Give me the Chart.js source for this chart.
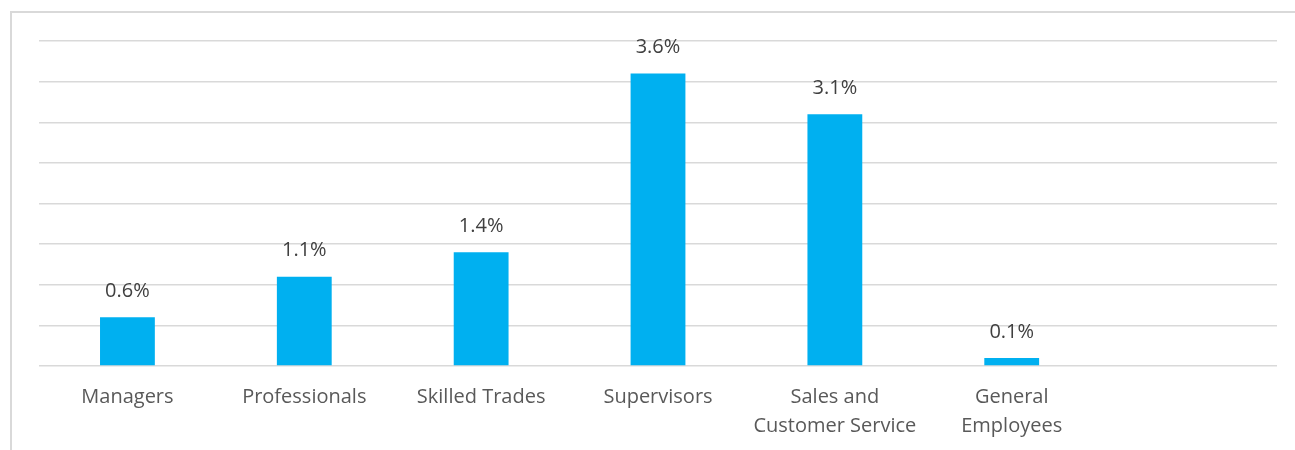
<!DOCTYPE html>
<html>
<head>
<meta charset="utf-8">
<script src="https://cdn.jsdelivr.net/npm/chart.js@4/dist/chart.umd.min.js"></script>
<style>
  html, body { margin: 0; padding: 0; background: #ffffff; }
  #wrap { position: relative; width: 1295px; height: 450px; }
  canvas { display: block; }
</style>
</head>
<body>
<div id="wrap"><canvas id="chart" width="1295" height="450"></canvas></div>
<script>
// Share of employees by job group (percent)
const categories = [
  'Managers',
  'Professionals',
  'Skilled Trades',
  'Supervisors',
  ['Sales and', 'Customer Service'],
  ['General', 'Employees'],
  ''
];
const shareValues = [0.6, 1.1, 1.4, 3.6, 3.1, 0.1, null];
const axisMax = 4.0;
const axisStep = 0.5;

const FONT = '"Open Sans", Lato, sans-serif';

// Light frame around the chart, open on the right and bottom
const framePlugin = {
  id: 'frame',
  beforeDraw(chart) {
    const ctx = chart.ctx;
    ctx.save();
    ctx.strokeStyle = '#d9d9d9';
    ctx.lineWidth = 2;
    ctx.beginPath();
    ctx.moveTo(11, 460);
    ctx.lineTo(11, 12);
    ctx.lineTo(1300, 12);
    ctx.stroke();
    ctx.restore();
  }
};

// Percentage labels above each bar
const valueLabelPlugin = {
  id: 'valueLabels',
  afterDatasetsDraw(chart) {
    const ctx = chart.ctx;
    const meta = chart.getDatasetMeta(0);
    const data = chart.data.datasets[0].data;
    ctx.save();
    ctx.font = '20px ' + FONT;
    ctx.fillStyle = '#404040';
    ctx.textAlign = 'center';
    ctx.textBaseline = 'middle';
    meta.data.forEach((bar, i) => {
      const v = data[i];
      if (v === null || v === undefined) return;
      ctx.fillText(v.toFixed(1) + '%', bar.x, bar.y - 26);
    });
    ctx.restore();
  }
};

new Chart(document.getElementById('chart'), {
  type: 'bar',
  data: {
    labels: categories,
    datasets: [{
      data: shareValues,
      backgroundColor: '#00b0f0',
      borderWidth: 0,
      categoryPercentage: 1,
      barPercentage: 0.31
    }]
  },
  options: {
    responsive: false,
    animation: false,
    devicePixelRatio: 1,
    layout: { padding: { left: 39, right: 18, top: 41, bottom: 0 } },
    plugins: {
      legend: { display: false },
      tooltip: { enabled: false }
    },
    scales: {
      x: {
        grid: { display: false, drawTicks: false },
        border: { display: false },
        ticks: {
          color: '#595959',
          font: { family: FONT, size: 20, lineHeight: 1.45 },
          padding: 17,
          maxRotation: 0,
          autoSkip: false
        },
        afterFit(scale) { scale.height = 84; }
      },
      y: {
        min: 0,
        max: axisMax,
        ticks: { display: false, stepSize: axisStep },
        grid: { color: '#d9d9d9', lineWidth: 1.5, drawTicks: false },
        border: { display: false },
        afterFit(scale) { scale.width = 0; }
      }
    }
  },
  plugins: [framePlugin, valueLabelPlugin]
});
</script>
</body>
</html>
